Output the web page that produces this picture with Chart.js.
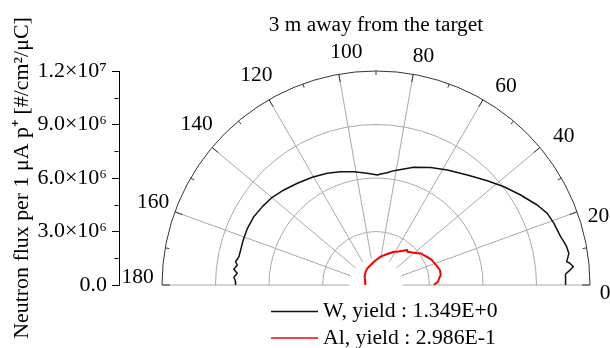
<!DOCTYPE html>
<html>
<head>
<meta charset="utf-8">
<script src="https://cdn.jsdelivr.net/npm/chart.js@4.4.1/dist/chart.umd.min.js"></script>
<style>
html,body{margin:0;padding:0;background:#fff;}
#wrap{width:610px;height:348px;position:relative;}
</style>
</head>
<body>
<div id="wrap"><canvas id="c" width="610" height="348"></canvas></div>
<script>
// ---------------- data ----------------
const chartTitle = '3 m away from the target';
const yAxisTitle = 'Neutron flux per 1 μA p⁺ [#/cm²/μC]';
const seriesNames = ['W, yield : 1.349E+0', 'Al, yield : 2.986E-1'];
const angleTicks = [0, 20, 40, 60, 80, 100, 120, 140, 160, 180];
const angleTickLabels = ['0', '20', '40', '60', '80', '100', '120', '140', '160', '180'];
const radialMax = 1.2e7;
const radialStep = 3e6;

// W target (angle in degrees, flux)
const wAngles = [0, 1.0, 3.3, 4.4, 5.3, 6.4, 7.0, 8.2, 9.3, 11.4, 13.0, 14.7, 19.1, 22.7, 26.4, 31.9, 37.5, 43.1, 50.3, 58.2, 65.1, 72.2, 81.1, 84.3, 87.6, 89.3, 94.5, 101, 107.4, 113.6, 120.6, 127.7, 134.1, 139.8, 145.4, 150.8, 156.2, 161.3, 168.3, 170.6, 171.8, 173.7, 175.2, 176.9, 178.7, 180];
const wFlux = [10.63e6, 10.63e6, 10.65e6, 10.91e6, 11.11e6, 10.94e6, 10.77e6, 10.87e6, 10.96e6, 10.90e6, 10.81e6, 10.70e6, 10.56e6, 10.41e6, 10.09e6, 9.55e6, 9.05e6, 8.55e6, 8.02e6, 7.59e6, 7.27e6, 6.93e6, 6.49e6, 6.33e6, 6.23e6, 6.17e6, 6.28e6, 6.47e6, 6.66e6, 6.84e6, 7.02e6, 7.21e6, 7.42e6, 7.62e6, 7.74e6, 7.85e6, 7.88e6, 7.86e6, 7.85e6, 7.98e6, 7.86e6, 8.02e6, 7.81e6, 7.98e6, 7.87e6, 7.88e6];

// Al target
const alAngles = [0, 3, 6.1, 8.8, 13.2, 16.6, 24.5, 30.3, 35.4, 37.5, 46.8, 48.2, 57.4, 61.7, 70, 80.8, 90, 95.1, 111.2, 117.5, 128, 144, 160, 170, 180];
const alFlux = [3.25e6, 3.48e6, 3.56e6, 3.67e6, 3.68e6, 3.59e6, 3.42e6, 3.22e6, 3.07e6, 2.92e6, 2.56e6, 2.63e6, 2.21e6, 2.12e6, 1.85e6, 1.61e6, 1.40e6, 1.31e6, 1.10e6, 1.05e6, 0.95e6, 0.79e6, 0.65e6, 0.62e6, 0.59e6];

// ---------------- layout / style ----------------
const FONT = "'Liberation Serif','Times New Roman',serif";
const PLOT = {left: 119, right: 589, top: 71, bottom: 285};
const xMinVal = -radialMax - (162 - PLOT.left) * (radialMax / (PLOT.bottom - PLOT.top));
const xMaxVal = xMinVal + (PLOT.right - PLOT.left) * (radialMax / (PLOT.bottom - PLOT.top));

function polarToXY(angles, values) {
  return angles.map((a, i) => {
    const t = a * Math.PI / 180;
    return {x: values[i] * Math.cos(t), y: values[i] * Math.sin(t)};
  });
}

const SUP = {'0':'⁰','1':'¹','2':'²','3':'³','4':'⁴','5':'⁵','6':'⁶','7':'⁷','8':'⁸','9':'⁹','-':'⁻'};
function sciLabel(v) {
  if (v === 0) return '0.0';
  const e = Math.floor(Math.log10(v) + 1e-9);
  const m = v / Math.pow(10, e);
  return m.toFixed(1) + '×10' + String(e).split('').map(c => SUP[c]).join('');
}

// label centre offsets (px) from the outer-circle point for each angle label
const angleLabelOffsets = {0:[15,8],20:[21.5,4.7],40:[23.7,-10.7],60:[23,-13.7],80:[10.4,-17.8],100:[7.6,-21.8],120:[-12.6,-24],140:[-15.5,-23],160:[-21.8,-9.3],180:[-24.4,-7.5]};

const polarPlugin = {
  id: 'polarPlugin',
  beforeDatasetsDraw(chart) {
    const {ctx, scales: {x, y}} = chart;
    const cx = x.getPixelForValue(0), cy = y.getPixelForValue(0);
    const rpx = v => cy - y.getPixelForValue(v);
    const R = rpx(radialMax), r0 = rpx(radialStep / 2);
    ctx.save();
    ctx.lineWidth = 1;
    ctx.strokeStyle = '#a8a8a8';
    for (let v = radialStep; v < radialMax - 1; v += radialStep) {
      ctx.beginPath();
      ctx.arc(cx, cy, rpx(v), Math.PI, 2 * Math.PI);
      ctx.stroke();
    }
    angleTicks.forEach(a => {
      const t = a * Math.PI / 180;
      ctx.beginPath();
      ctx.moveTo(cx + r0 * Math.cos(t), cy - r0 * Math.sin(t));
      ctx.lineTo(cx + R * Math.cos(t), cy - R * Math.sin(t));
      ctx.stroke();
    });
    ctx.strokeStyle = '#333';
    ctx.beginPath();
    ctx.arc(cx, cy, R, Math.PI, 2 * Math.PI);
    ctx.stroke();
    for (let a = 0; a <= 180; a += 10) {
      const t = a * Math.PI / 180;
      const len = (a % 20 === 0) ? 8 : 4;
      ctx.beginPath();
      ctx.moveTo(cx + R * Math.cos(t), cy - R * Math.sin(t));
      ctx.lineTo(cx + (R - len) * Math.cos(t), cy - (R - len) * Math.sin(t));
      ctx.stroke();
    }
    ctx.restore();
  },
  afterDraw(chart) {
    const {ctx, scales: {x, y}} = chart;
    const cx = x.getPixelForValue(0), cy = y.getPixelForValue(0);
    const R = cy - y.getPixelForValue(radialMax);
    ctx.save();
    // minor ticks on the radial (y) axis
    ctx.strokeStyle = '#000'; ctx.lineWidth = 1;
    const tks = y.ticks;
    const ax = Math.round(chart.chartArea.left) - 0.5;
    for (let i = 0; i < tks.length - 1; i++) {
      const mid = (tks[i].value + tks[i + 1].value) / 2;
      const py = Math.round(y.getPixelForValue(mid)) + 0.5;
      ctx.beginPath(); ctx.moveTo(ax - 4, py); ctx.lineTo(ax, py); ctx.stroke();
    }
    // title
    ctx.fillStyle = '#000';
    ctx.font = '21.3px ' + FONT;
    ctx.textAlign = 'center';
    ctx.textBaseline = 'alphabetic';
    ctx.fillText(chartTitle, cx, 31);
    // angle labels
    ctx.font = '21.5px ' + FONT;
    ctx.textBaseline = 'middle';
    angleTicks.forEach((a, i) => {
      const t = a * Math.PI / 180;
      const off = angleLabelOffsets[a] || [0, 0];
      ctx.fillText(angleTickLabels[i], cx + R * Math.cos(t) + off[0], cy - R * Math.sin(t) + off[1]);
    });
    // legend
    const lx = cx - 105;
    ctx.font = '21.7px ' + FONT;
    ctx.textAlign = 'left';
    ctx.textBaseline = 'alphabetic';
    chart.data.datasets.forEach((ds, i) => {
      const ly = 311.5 + i * 26.5;
      ctx.strokeStyle = ds.borderColor; ctx.lineWidth = 1.5;
      ctx.beginPath(); ctx.moveTo(lx, ly); ctx.lineTo(lx + 47, ly); ctx.stroke();
      ctx.fillStyle = '#000';
      ctx.fillText(ds.label, lx + 52, ly + 5.5);
    });
    ctx.restore();
  }
};

new Chart(document.getElementById('c'), {
  type: 'scatter',
  data: {
    datasets: [
      {label: seriesNames[0], data: polarToXY(wAngles, wFlux), showLine: true, borderColor: '#111', backgroundColor: '#111', borderWidth: 1.5, pointRadius: 0, borderJoinStyle: 'round'},
      {label: seriesNames[1], data: polarToXY(alAngles, alFlux), showLine: true, borderColor: '#ff0000', backgroundColor: '#ff0000', borderWidth: 2, pointRadius: 0, borderJoinStyle: 'round'}
    ]
  },
  options: {
    responsive: false,
    animation: false,
    events: [],
    layout: {padding: {left: 0, right: 610 - PLOT.right, top: PLOT.top, bottom: 348 - PLOT.bottom}},
    plugins: {legend: {display: false}, title: {display: false}, tooltip: {enabled: false}},
    scales: {
      x: {type: 'linear', min: xMinVal, max: xMaxVal, display: false},
      y: {
        type: 'linear', min: 0, max: radialMax, position: 'left',
        afterFit(scale) { scale.width = PLOT.left; },
        ticks: {stepSize: radialStep, callback: v => sciLabel(v), color: '#000', font: {family: FONT, size: 22}, padding: 5},
        grid: {display: true, drawOnChartArea: false, drawTicks: true, tickLength: 7, color: '#000'},
        border: {display: true, color: '#000', width: 1},
        title: {display: true, text: yAxisTitle, color: '#000', font: {family: FONT, size: 21.9}, padding: {top: 9, bottom: 0}}
      }
    }
  },
  plugins: [polarPlugin]
});
</script>
</body>
</html>
